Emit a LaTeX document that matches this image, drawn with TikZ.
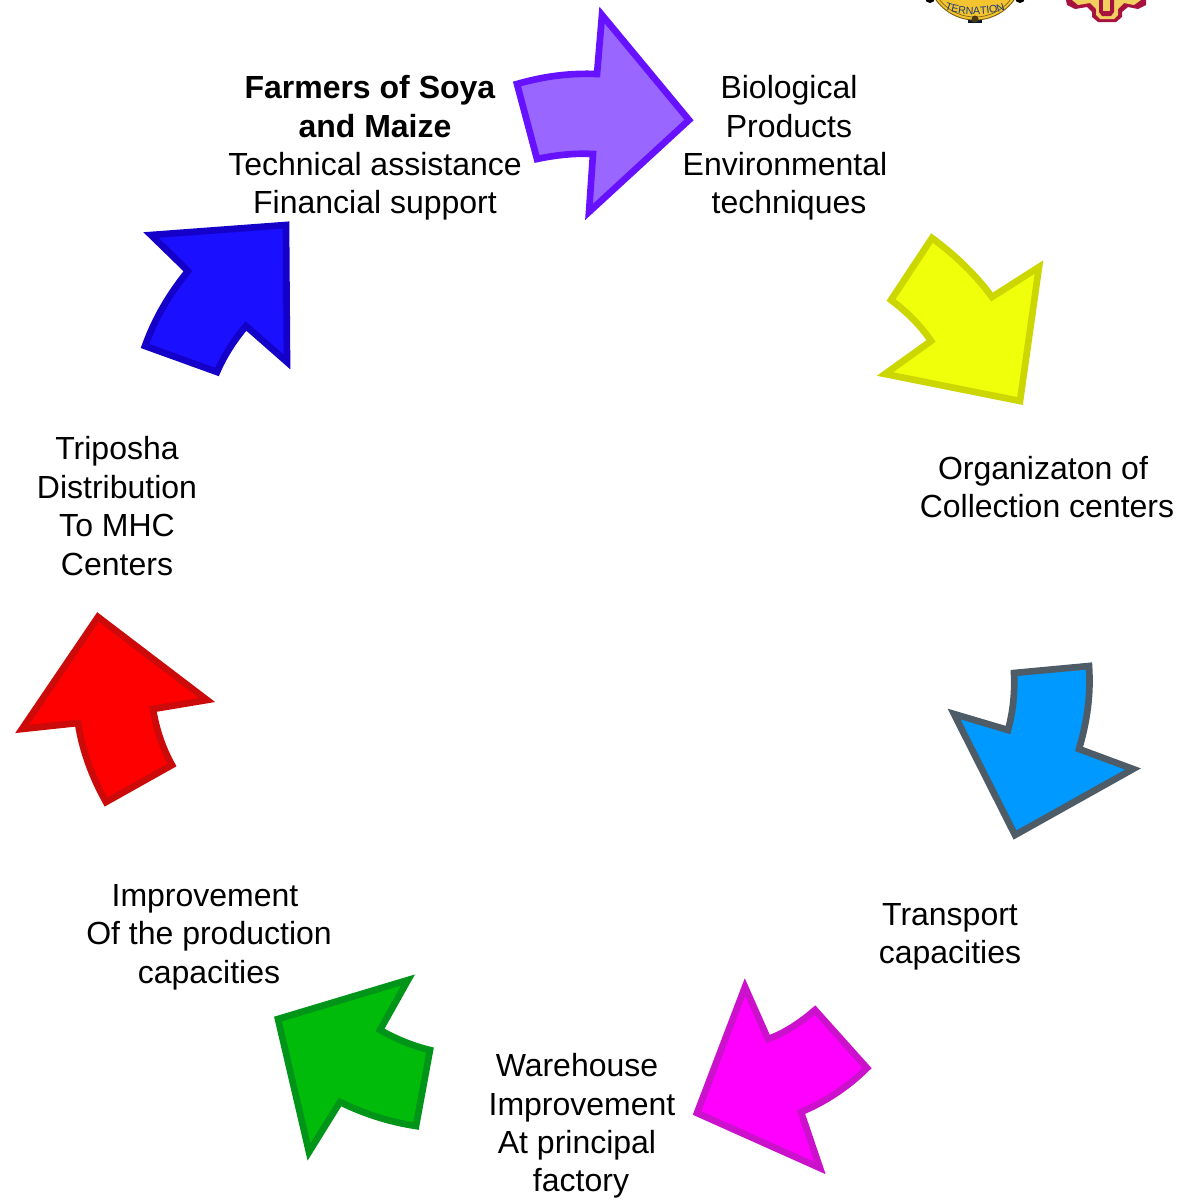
\documentclass[tikz,border=0pt]{standalone}
\usepackage{fontspec}
\setmainfont{Liberation Sans}
\usetikzlibrary{decorations.text}
\definecolor{aPurpleF}{HTML}{9966FF}\definecolor{aPurpleD}{HTML}{6611FF}
\definecolor{aYellowF}{HTML}{F0FF0A}\definecolor{aYellowD}{HTML}{CCD600}
\definecolor{aCyanF}{HTML}{0099FF}\definecolor{aCyanD}{HTML}{4D5C66}
\definecolor{aMagF}{HTML}{FF00FF}\definecolor{aMagD}{HTML}{CC11CC}
\definecolor{aGreenF}{HTML}{00BB0A}\definecolor{aGreenD}{HTML}{009418}
\definecolor{aRedF}{HTML}{FF0000}\definecolor{aRedD}{HTML}{CC0A0A}
\definecolor{aBlueF}{HTML}{1A0FFF}\definecolor{aBlueD}{HTML}{1400C8}
\definecolor{logoY}{HTML}{F4C430}\definecolor{logoR}{HTML}{A8123F}\definecolor{logoN}{HTML}{1F3C78}
\definecolor{logoV}{HTML}{F2D060}
\tikzset{
 bend arrow/.style n args={2}{draw=#1,fill=#2,line width=5pt,line join=miter,miter limit=10},
 lbl/.style={align=center,inner sep=0pt,font=\fontsize{24pt}{28.8pt}\selectfont}
}
\begin{document}
\begin{tikzpicture}[x=0.75pt,y=-0.75pt]
\useasboundingbox (0,0) rectangle (1180,1200);
% arrows
\draw[bend arrow={aPurpleD}{aPurpleF}] (517,84) .. controls (545,76) and (570,73) .. (597,74) -- (602,15) -- (689,120) -- (589,212) -- (593,154) .. controls (575,153) and (556,155) .. (537,159) -- cycle;
\draw[bend arrow={aYellowD}{aYellowF}] (932,238) .. controls (955,255) and (976,275) .. (992,297) -- (1039,267) -- (1020,401) -- (885,374) -- (931,341) .. controls (921,326) and (907,312) .. (891,300) -- cycle;
\draw[bend arrow={aCyanD}{aCyanF}] (1014,673) -- (1089,666) .. controls (1091,695) and (1087,722) .. (1079,749) -- (1133,769) -- (1015,835) -- (954,714) -- (1008,730) .. controls (1013,712) and (1015,692) .. cycle;
\draw[bend arrow={aMagD}{aMagF}] (815,1010) -- (867,1068) .. controls (848,1087) and (825,1102) .. (801,1112) -- (820,1168) -- (697,1113) -- (745,987) -- (768,1039) .. controls (785,1033) and (801,1022) .. cycle;
\draw[bend arrow={aGreenD}{aGreenF}] (430,1050) -- (416,1126) .. controls (390,1122) and (364,1114) .. (340,1102) -- (309,1152) -- (278,1019) -- (408,980) -- (380,1030) .. controls (396,1039) and (413,1046) .. cycle;
\draw[bend arrow={aRedD}{aRedF}] (172,765) -- (106,802) .. controls (92,777) and (82,750) .. (78,723) -- (22,729) -- (98,617) -- (207,700) -- (153,709) .. controls (156,728) and (162,747) .. cycle;
\draw[bend arrow={aBlueD}{aBlueF}] (217,372) -- (145,346) .. controls (155,318) and (170,293) .. (188,271) -- (151,235) -- (286,225) -- (287,362) -- (246,326) .. controls (234,340) and (224,356) .. cycle;
% labels
\node[lbl] (farmers) at (375,148) {\hspace*{-7.5pt}\textbf{Farmers of Soya}\\\textbf{and Maize}\\Technical assistance\\Financial support};
\node[lbl] (bio) at (789,148) {Biological\\Products\\\hspace*{-6pt}Environmental\\techniques};
\node[lbl] (org) at (1047,487) {\hspace*{-6pt}Organizaton of\\Collection centers};
\node[lbl] (trans) at (950,937) {Transport\\capacities};
\node[lbl] (ware) at (582,1126) {\hspace*{-7.5pt}Warehouse\\Improvement\\\hspace*{-7.5pt}At principal\\\hspace*{-1.5pt}factory};
\node[lbl] (prod) at (209,937) {\hspace*{-6pt}Improvement\\Of the production\\capacities};
\node[lbl] (tri) at (117,506) {Triposha\\Distribution\\To MHC\\Centers};
% cut-off logos at top edge
\begin{scope}
\clip (0,0) rectangle (1180,1200);
\fill[black] (930,-2) circle (5) (1020,-2) circle (5);
\fill[logoN!40!black] (968,18) rectangle (982,23);
\fill[logoY,draw=black!50!logoY,line width=0.7pt] (975,-28) circle (48);
\draw[black!50!logoY,line width=0.5pt] (975,-28) circle (45);
\fill[black!70!logoY] (975,19) circle (3.5);
\path[decorate,decoration={text along path,text align=center,text={|\fontsize{8pt}{8pt}\selectfont\color{logoN}|TERNATION}}] (940,7) .. controls (955,17) and (995,17) .. (1010,7);
\fill[logoR] (1066,0) -- (1067,5) -- (1075,9) -- (1087,7) -- (1092,12) -- (1092,17) -- (1098,22) -- (1116,22) -- (1122,17) -- (1122,12) -- (1128,7) -- (1138,9) -- (1146,5) -- (1146,0) -- cycle;
\fill[logoV] (1072,0) -- (1078,5) -- (1090,3) -- (1096,9) -- (1096,15) -- (1100,19) -- (1114,19) -- (1118,15) -- (1118,9) -- (1124,3) -- (1134,5) -- (1141,0) -- cycle;
\fill[logoR] (1099,0) -- (1099,12) -- (1102,16) -- (1111,16) -- (1114,12) -- (1114,0) -- cycle;
\fill[logoV] (1103,0) rectangle (1110,11);
\end{scope}
\end{tikzpicture}
\end{document}
